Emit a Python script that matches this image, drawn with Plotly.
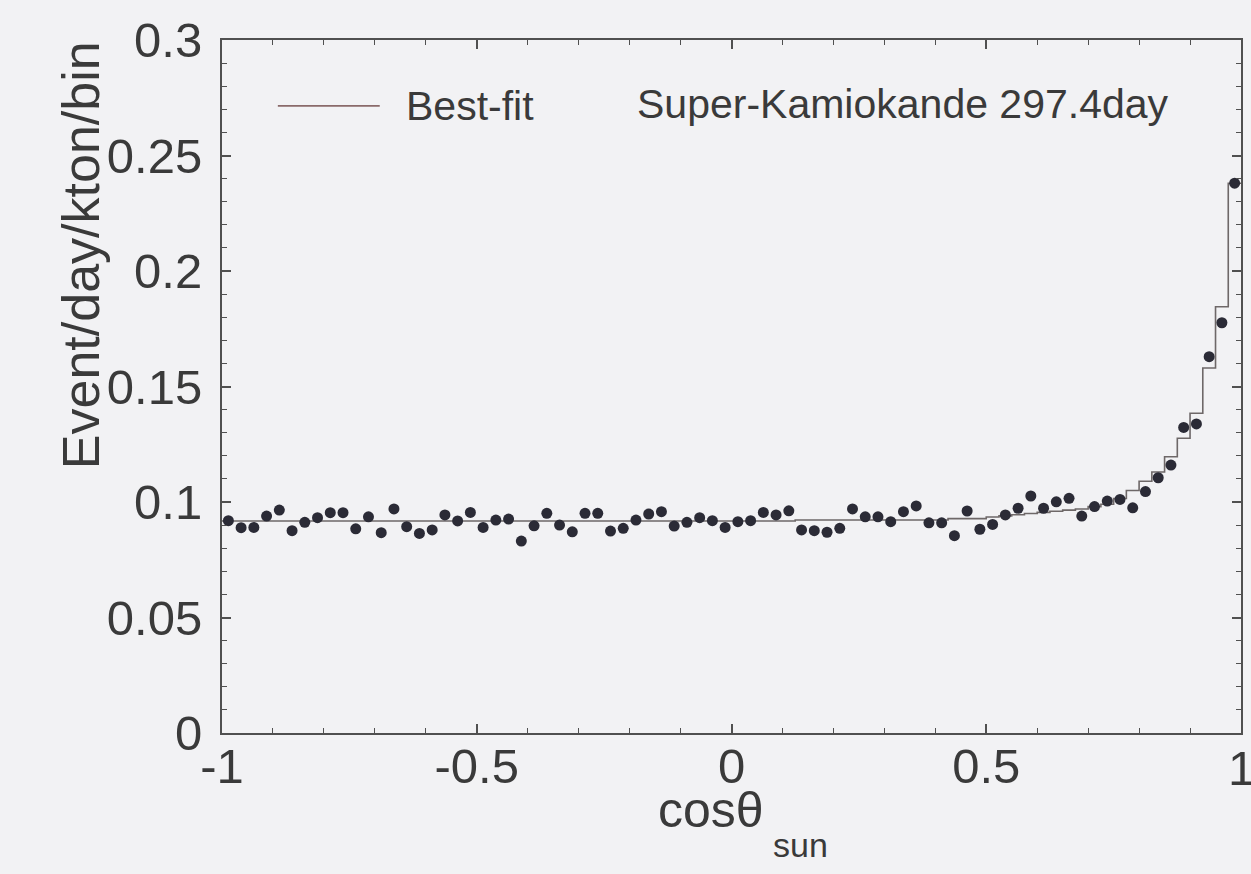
import numpy as np
import plotly.graph_objects as go

# cos(theta_sun) binning: 80 bins over [-1, 1]
bin_edges = np.linspace(-1.0, 1.0, 81)
bin_centers = 0.5 * (bin_edges[:-1] + bin_edges[1:])

# Measured event rate per bin (event/day/kton/bin)
data_rate = [
    0.0919, 0.0889, 0.0890, 0.0939, 0.0965, 0.0876, 0.0912, 0.0932, 0.0954, 0.0954,
    0.0884, 0.0936, 0.0867, 0.0970, 0.0893, 0.0864, 0.0879, 0.0944, 0.0918, 0.0955,
    0.0890, 0.0922, 0.0926, 0.0831, 0.0897, 0.0951, 0.0900, 0.0871, 0.0951, 0.0951,
    0.0874, 0.0886, 0.0922, 0.0948, 0.0958, 0.0896, 0.0912, 0.0932, 0.0919, 0.0890,
    0.0915, 0.0919, 0.0955, 0.0944, 0.0962, 0.0879, 0.0876, 0.0869, 0.0886, 0.0970,
    0.0936, 0.0936, 0.0915, 0.0958, 0.0983, 0.0910, 0.0910, 0.0854, 0.0961, 0.0882,
    0.0903, 0.0944, 0.0973, 0.1026, 0.0973, 0.1001, 0.1016, 0.0939, 0.0980, 0.1004,
    0.1011, 0.0975, 0.1045, 0.1105, 0.1160, 0.1323, 0.1338, 0.1629, 0.1776, 0.2380,
]

# Best-fit expectation (background + solar peak) per bin
fit_rate = [
    0.0918, 0.0918, 0.0918, 0.0918, 0.0918, 0.0918, 0.0918, 0.0918, 0.0918, 0.0918,
    0.0918, 0.0918, 0.0918, 0.0918, 0.0918, 0.0918, 0.0918, 0.0918, 0.0918, 0.0918,
    0.0918, 0.0918, 0.0918, 0.0918, 0.0918, 0.0918, 0.0918, 0.0918, 0.0918, 0.0918,
    0.0918, 0.0918, 0.0918, 0.0918, 0.0918, 0.0918, 0.0918, 0.0918, 0.0918, 0.0918,
    0.0918, 0.0918, 0.0918, 0.0918, 0.0918, 0.0922, 0.0922, 0.0922, 0.0922, 0.0922,
    0.0922, 0.0922, 0.0922, 0.0922, 0.0922, 0.0922, 0.0922, 0.0928, 0.0928, 0.0928,
    0.0935, 0.0940, 0.0945, 0.0950, 0.0955, 0.0960, 0.0965, 0.0970, 0.0980, 0.0990,
    0.1015, 0.1050, 0.1090, 0.1130, 0.1196, 0.1276, 0.1384, 0.1580, 0.1845, 0.2380,
]

x_tick_vals = [-1, -0.5, 0, 0.5]
x_tick_text = ["-1", "-0.5", "0", "0.5"]
x_last_tick = 1
y_tick_vals = [0, 0.05, 0.1, 0.15, 0.2, 0.25, 0.3]
y_tick_text = ["0", "0.05", "0.1", "0.15", "0.2", "0.25", "0.3"]

bg = "#f2f2f4"
ink = "#3a3a3a"
frame = "#505050"
font_family = "Liberation Sans, Arial, sans-serif"

fig = go.Figure()

# Step histogram of the best fit
fig.add_trace(go.Scatter(
    x=bin_edges,
    y=list(fit_rate) + [fit_rate[-1]],
    mode="lines",
    line=dict(shape="hv", color="#6e6868", width=1.6),
    showlegend=False,
    hoverinfo="skip",
))

# Data points
fig.add_trace(go.Scatter(
    x=bin_centers,
    y=data_rate,
    mode="markers",
    marker=dict(symbol="circle", size=11, color="#2b2b36"),
    showlegend=False,
))

axis_common = dict(
    showline=True, linecolor=frame, linewidth=2, mirror="ticks",
    ticks="inside", ticklen=9, tickwidth=1.5, tickcolor=frame,
    showgrid=False, zeroline=False,
    tickfont=dict(family=font_family, size=49, color=ink),
)

fig.update_xaxes(
    range=[-1, 1], tickvals=x_tick_vals + [x_last_tick], ticktext=x_tick_text + [""],
    minor=dict(ticks="inside", ticklen=5, tickwidth=1, tickcolor=frame, dtick=0.1, showgrid=False),
    ticklabelstandoff=-11,
    **axis_common,
)
fig.update_yaxes(
    range=[0, 0.3], tickvals=y_tick_vals, ticktext=y_tick_text,
    minor=dict(ticks="inside", ticklen=5, tickwidth=1, tickcolor=frame, dtick=0.01, showgrid=False),
    ticklabelstandoff=8,
    **axis_common,
)

annotations = [
    # last x tick label, sitting on the page edge
    dict(text=str(x_last_tick), xref="x", yref="paper", x=x_last_tick, y=-0.0505,
         xanchor="center", yanchor="middle", showarrow=False,
         font=dict(family=font_family, size=49, color=ink)),
    # y-axis title
    dict(text="Event/day/kton/bin", xref="paper", yref="paper", x=-0.139, y=0.69,
         xanchor="center", yanchor="middle", textangle=-90, showarrow=False,
         font=dict(family=font_family, size=52, color=ink)),
    # x-axis title
    dict(text="cosθ", xref="paper", yref="paper", x=0.4265, y=-0.111,
         xanchor="left", yanchor="middle", showarrow=False, borderpad=0,
         font=dict(family=font_family, size=50, color=ink)),
    dict(text="sun", xref="paper", yref="paper", x=0.540, y=-0.162,
         xanchor="left", yanchor="middle", showarrow=False, borderpad=0,
         font=dict(family=font_family, size=34, color=ink)),
    # legend label
    dict(text="Best-fit", xref="paper", yref="paper", x=0.179, y=0.905,
         xanchor="left", yanchor="middle", showarrow=False,
         font=dict(family=font_family, size=41, color=ink)),
    # experiment label
    dict(text="Super-Kamiokande 297.4day", xref="paper", yref="paper", x=0.4055, y=0.907,
         xanchor="left", yanchor="middle", showarrow=False,
         font=dict(family=font_family, size=41, color=ink)),
]

# legend line sample
shapes = [
    dict(type="line", xref="paper", yref="paper", x0=0.0548, x1=0.1548, y0=0.905, y1=0.905,
         line=dict(color="#8a6a6a", width=1.6)),
]

fig.update_layout(
    width=1251, height=874,
    margin=dict(l=222, r=8, t=40, b=141),
    paper_bgcolor=bg, plot_bgcolor=bg,
    annotations=annotations, shapes=shapes,
    showlegend=False,
)

fig.write_html("out.html")
